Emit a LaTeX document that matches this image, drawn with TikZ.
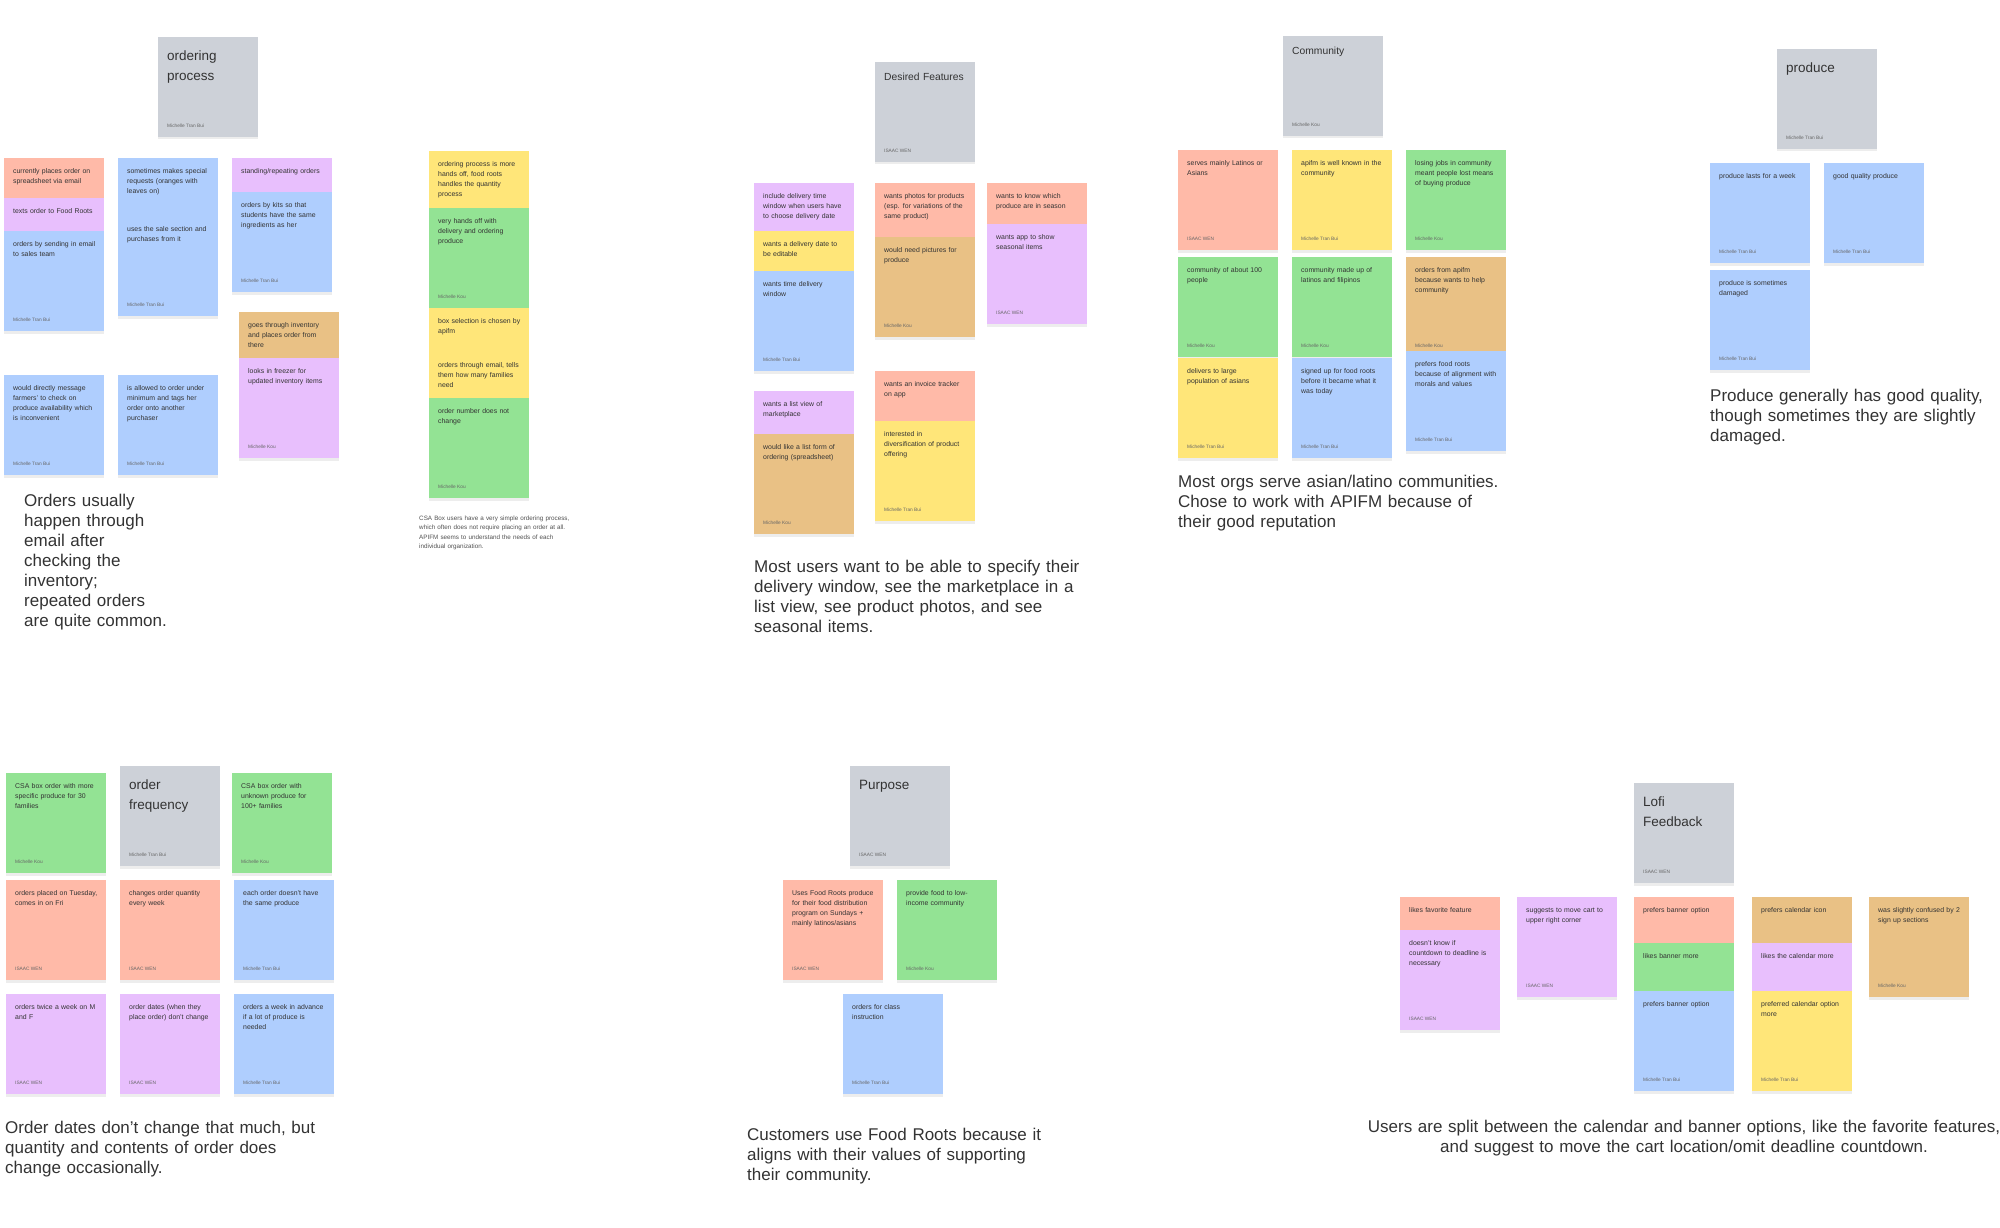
\documentclass[tikz,border=0pt]{standalone}
\usepackage{fontspec}
\setmainfont{Liberation Sans}
\usetikzlibrary{positioning}
\definecolor{cardgray}{HTML}{CDD1D8}
\definecolor{salmon}{HTML}{FFBAA8}
\definecolor{lilac}{HTML}{E8BFFD}
\definecolor{skyblue}{HTML}{AFCEFE}
\definecolor{lemon}{HTML}{FFE679}
\definecolor{mint}{HTML}{93E394}
\definecolor{caramel}{HTML}{E9C185}
\definecolor{ink}{HTML}{333333}

% name, x, y, colour, text, author
\newcommand{\stickynote}[6]{%
  \fill[notedrop] (#2,#3+2.5) rectangle ++(100,100);
  \fill[#4] (#2,#3) rectangle ++(100,100);
  \node[notetext] (#1) at (#2+9,#3+15.5) {#5};
  \node[byline] (#1-by) at (#2+9,#3+90.5) {#6};
}
% name, x, y, title style, title, author
\newcommand{\stickyhead}[6]{%
  \fill[notedrop] (#2,#3+2.5) rectangle ++(100,100);
  \fill[cardgray] (#2,#3) rectangle ++(100,100);
  \node[#4] (#1) at (#2+9,#3+21.5) {#5};
  \node[byline] (#1-by) at (#2+9,#3+90.5) {#6};
}

\begin{document}
\begin{tikzpicture}[x=1pt,y=-1pt,
    notedrop/.style={fill=black!7},
    notetext/.style={anchor=base west, inner sep=0pt, text width=92pt, align=left, text=ink, font=\fontsize{6.9}{10}\selectfont},
    byline/.style={anchor=base west, inner sep=0pt, text=ink!75, font=\fontsize{4.8}{6}\selectfont},
    bigtitle/.style={anchor=base west, inner sep=0pt, text width=88pt, align=left, text=ink, yshift=-2pt, font=\fontsize{13.5}{20}\selectfont},
    smalltitle/.style={anchor=base west, inner sep=0pt, text width=88pt, align=left, text=ink, yshift=2.5pt, font=\fontsize{10.3}{14}\selectfont},
    summary/.style={anchor=base west, inner sep=0pt, text width=430pt, align=left, text=ink, font=\fontsize{17}{20}\selectfont},
    caption/.style={anchor=base west, inner sep=0pt, text width=200pt, align=left, text=ink!85, font=\fontsize{6.3}{9.3}\selectfont}]

    \path[use as bounding box, fill=white] (0,0) rectangle (2000,1228);

    % ordering process
    \stickyhead{ordhead}{158}{37}{bigtitle}{ordering\\process}{Michelle Tran Bui}
    \stickynote{op1}{4}{158}{salmon}{currently places order on\\spreadsheet via email}{}
    \stickynote{op2}{4}{198}{lilac}{texts order to Food Roots}{}
    \stickynote{op3}{4}{231}{skyblue}{orders by sending in email\\to sales team}{Michelle Tran Bui}
    \stickynote{op4}{118}{158}{skyblue}{sometimes makes special\\requests (oranges with\\leaves on)}{}
    \stickynote{op5}{118}{216}{skyblue}{uses the sale section and\\purchases from it}{Michelle Tran Bui}
    \stickynote{op6}{232}{158}{lilac}{standing/repeating orders}{}
    \stickynote{op7}{232}{192}{skyblue}{orders by kits so that\\students have the same\\ingredients as her}{Michelle Tran Bui}
    \stickynote{op8}{239}{312}{caramel}{goes through inventory\\and places order from\\there}{}
    \stickynote{op9}{239}{358}{lilac}{looks in freezer for\\updated inventory items}{Michelle Kou}
    \stickynote{op10}{4}{375}{skyblue}{would directly message\\farmers' to check on\\produce availability which\\is inconvenient}{Michelle Tran Bui}
    \stickynote{op11}{118}{375}{skyblue}{is allowed to order under\\minimum and tags her\\order onto another\\purchaser}{Michelle Tran Bui}
    \node[summary] (ordsum) at (24,506) {Orders usually\\happen through\\email after\\checking the\\inventory;\\repeated orders\\are quite common.};

    % csa box
    \stickynote{csa1}{429}{151}{lemon}{ordering process is more\\hands off, food roots\\handles the quantity\\process}{}
    \stickynote{csa2}{429}{208}{mint}{very hands off with\\delivery and ordering\\produce}{Michelle Kou}
    \stickynote{csa3}{429}{308}{lemon}{box selection is chosen by\\apifm}{}
    \stickynote{csa4}{429}{352}{lemon}{orders through email, tells\\them how many families\\need}{}
    \stickynote{csa5}{429}{398}{mint}{order number does not\\change}{Michelle Kou}
    \node[caption] (csasum) at (419,520.5) {CSA Box users have a very simple ordering process,\\which often does not require placing an order at all.\\APIFM seems to understand the needs of each\\individual organization.};

    % desired features
    \stickyhead{deshead}{875}{62}{smalltitle}{Desired Features}{ISAAC WEN}
    \stickynote{df1}{754}{183}{lilac}{include delivery time\\window when users have\\to choose delivery date}{}
    \stickynote{df2}{754}{231}{lemon}{wants a delivery date to\\be editable}{}
    \stickynote{df3}{754}{271}{skyblue}{wants time delivery\\window}{Michelle Tran Bui}
    \stickynote{df4}{875}{183}{salmon}{wants photos for products\\(esp. for variations of the\\same product)}{}
    \stickynote{df5}{875}{237}{caramel}{would need pictures for\\produce}{Michelle Kou}
    \stickynote{df6}{987}{183}{salmon}{wants to know which\\produce are in season}{}
    \stickynote{df7}{987}{224}{lilac}{wants app to show\\seasonal items}{ISAAC WEN}
    \stickynote{df8}{754}{391}{lilac}{wants a list view of\\marketplace}{}
    \stickynote{df9}{754}{434}{caramel}{would like a list form of\\ordering (spreadsheet)}{Michelle Kou}
    \stickynote{df10}{875}{371}{salmon}{wants an invoice tracker\\on app}{}
    \stickynote{df11}{875}{421}{lemon}{interested in\\diversification of product\\offering}{Michelle Tran Bui}
    \node[summary] (dessum) at (754,572) {Most users want to be able to specify their\\delivery window, see the marketplace in a\\list view, see product photos, and see\\seasonal items.};

    % community
    \stickyhead{comhead}{1283}{36}{smalltitle}{Community}{Michelle Kou}
    \stickynote{cm1}{1178}{150}{salmon}{serves mainly Latinos or\\Asians}{ISAAC WEN}
    \stickynote{cm2}{1292}{150}{lemon}{apifm is well known in the\\community}{Michelle Tran Bui}
    \stickynote{cm3}{1406}{150}{mint}{losing jobs in community\\meant people lost means\\of buying produce}{Michelle Kou}
    \stickynote{cm4}{1178}{257}{mint}{community of about 100\\people}{Michelle Kou}
    \stickynote{cm5}{1178}{358}{lemon}{delivers to large\\population of asians}{Michelle Tran Bui}
    \stickynote{cm6}{1292}{257}{mint}{community made up of\\latinos and filipinos}{Michelle Kou}
    \stickynote{cm7}{1292}{358}{skyblue}{signed up for food roots\\before it became what it\\was today}{Michelle Tran Bui}
    \stickynote{cm8}{1406}{257}{caramel}{orders from apifm\\because wants to help\\community}{Michelle Kou}
    \stickynote{cm9}{1406}{351}{skyblue}{prefers food roots\\because of alignment with\\morals and values}{Michelle Tran Bui}
    \node[summary] (comsum) at (1178,487) {Most orgs serve asian/latino communities.\\Chose to work with APIFM because of\\their good reputation};

    % produce
    \stickyhead{prohead}{1777}{49}{bigtitle}{produce}{Michelle Tran Bui}
    \stickynote{pr1}{1710}{163}{skyblue}{produce lasts for a week}{Michelle Tran Bui}
    \stickynote{pr2}{1824}{163}{skyblue}{good quality produce}{Michelle Tran Bui}
    \stickynote{pr3}{1710}{270}{skyblue}{produce is sometimes\\damaged}{Michelle Tran Bui}
    \node[summary] (prosum) at (1710,401) {Produce generally has good quality,\\though sometimes they are slightly\\damaged.};

    % order frequency
    \stickynote{of1}{6}{773}{mint}{CSA box order with more\\specific produce for 30\\families}{Michelle Kou}
    \stickyhead{freqhead}{120}{766}{bigtitle}{order\\frequency}{Michelle Tran Bui}
    \stickynote{of2}{232}{773}{mint}{CSA box order with\\unknown produce for\\100+ families}{Michelle Kou}
    \stickynote{of3}{6}{880}{salmon}{orders placed on Tuesday,\\comes in on Fri}{ISAAC WEN}
    \stickynote{of4}{120}{880}{salmon}{changes order quantity\\every week}{ISAAC WEN}
    \stickynote{of5}{234}{880}{skyblue}{each order doesn't have\\the same produce}{Michelle Tran Bui}
    \stickynote{of6}{6}{994}{lilac}{orders twice a week on M\\and F}{ISAAC WEN}
    \stickynote{of7}{120}{994}{lilac}{order dates (when they\\place order) don't change}{ISAAC WEN}
    \stickynote{of8}{234}{994}{skyblue}{orders a week in advance\\if a lot of produce is\\needed}{Michelle Tran Bui}
    \node[summary] (freqsum) at (5,1133) {Order dates don't change that much, but\\quantity and contents of order does\\change occasionally.};

    % purpose
    \stickyhead{purhead}{850}{766}{bigtitle}{Purpose}{ISAAC WEN}
    \stickynote{pu1}{783}{880}{salmon}{Uses Food Roots produce\\for their food distribution\\program on Sundays +\\mainly latinos/asians}{ISAAC WEN}
    \stickynote{pu2}{897}{880}{mint}{provide food to low-\\income community}{Michelle Kou}
    \stickynote{pu3}{843}{994}{skyblue}{orders for class\\instruction}{Michelle Tran Bui}
    \node[summary] (pursum) at (747,1140) {Customers use Food Roots because it\\aligns with their values of supporting\\their community.};

    % lofi feedback
    \stickyhead{lofhead}{1634}{783}{bigtitle}{Lofi\\Feedback}{ISAAC WEN}
    \stickynote{lf1}{1400}{897}{salmon}{likes favorite feature}{}
    \stickynote{lf2}{1400}{930}{lilac}{doesn't know if\\countdown to deadline is\\necessary}{ISAAC WEN}
    \stickynote{lf3}{1517}{897}{lilac}{suggests to move cart to\\upper right corner}{ISAAC WEN}
    \stickynote{lf4}{1634}{897}{salmon}{prefers banner option}{}
    \stickynote{lf5}{1634}{943}{mint}{likes banner more}{}
    \stickynote{lf6}{1634}{991}{skyblue}{prefers banner option}{Michelle Tran Bui}
    \stickynote{lf7}{1752}{897}{caramel}{prefers calendar icon}{}
    \stickynote{lf8}{1752}{943}{lilac}{likes the calendar more}{}
    \stickynote{lf9}{1752}{991}{lemon}{preferred calendar option\\more}{Michelle Tran Bui}
    \stickynote{lf10}{1869}{897}{caramel}{was slightly confused by 2\\sign up sections}{Michelle Kou}
    \node[summary, anchor=base, text width=660pt, align=center] (lofsum) at (1684,1132) {Users are split between the calendar and banner options, like the favorite features,\\and suggest to move the cart location/omit deadline countdown.};

\end{tikzpicture}
\end{document}
